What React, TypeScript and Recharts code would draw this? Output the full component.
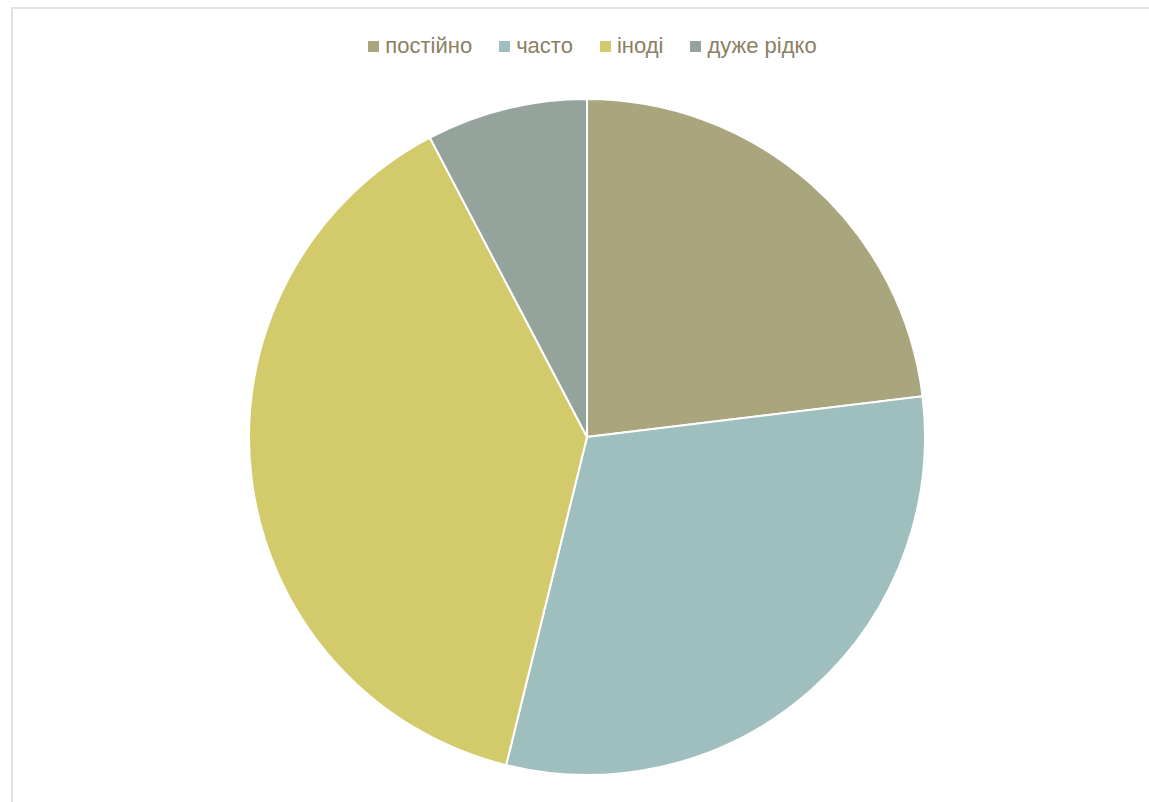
import { PieChart, Pie, Cell } from 'recharts'

const categories = ['постійно', 'часто', 'іноді', 'дуже рідко']
const values = [6, 8, 10, 2]
const colors = ['#a9a57c', '#9fbfbe', '#d3cb6b', '#94a39b']

const data = categories.map((name, i) => ({ name, value: values[i] }))

function TopLegend() {
  return (
    <div style={{ position: 'absolute', top: 32, left: 0, width: 1185, display: 'flex', justifyContent: 'center', gap: 27, fontFamily: '"Liberation Sans", Arial, sans-serif', fontSize: 22, lineHeight: '28px', color: '#8a8063' }}>
      {categories.map((c, i) => (
        <div key={c} style={{ display: 'flex', alignItems: 'center' }}>
          <span style={{ width: 11, height: 11, background: colors[i], marginRight: 6, display: 'inline-block' }} />
          <span>{c}</span>
        </div>
      ))}
    </div>
  )
}

export default function App() {
  return (
    <div style={{ position: 'absolute', left: 0, top: 0, width: 1149, height: 802, overflow: 'hidden', background: '#fff' }}>
      <div style={{ position: 'absolute', left: 11, top: 7, width: 1300, height: 900, border: '2px solid #e6e3dc' }} />
      <div style={{ position: 'absolute', left: 0, top: 0 }}>
        <PieChart width={1149} height={802} margin={{ top: 0, right: 0, bottom: 0, left: 0 }}>
          <Pie
            data={data}
            dataKey="value"
            nameKey="name"
            cx={587}
            cy={437}
            outerRadius={338}
            startAngle={90}
            endAngle={-270}
            stroke="#ffffff"
            strokeWidth={2}
            isAnimationActive={false}
          >
            {data.map((d, i) => (
              <Cell key={d.name} fill={colors[i]} />
            ))}
          </Pie>
        </PieChart>
      </div>
      <TopLegend />
    </div>
  )
}
